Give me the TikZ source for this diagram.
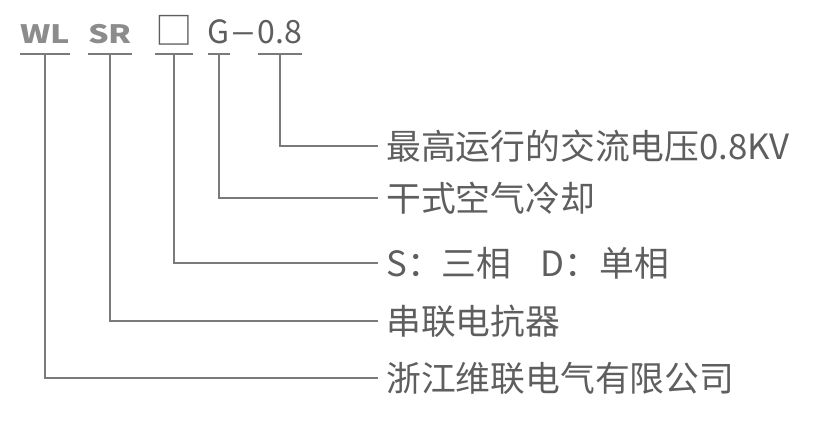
\documentclass[tikz,border=0pt]{standalone}
\usepackage{fontspec}
\usepackage{xcolor}
\newfontfamily\cjk{Noto Sans CJK SC}
\newfontfamily\cjkwide{Noto Sans CJK SC}[FakeStretch=1.28]
\usetikzlibrary{calc}
\definecolor{inkgray}{HTML}{5E5E5E}
\definecolor{codegray}{HTML}{8C8C8C}
\definecolor{linegray}{HTML}{7A7A7A}
\tikzset{
	code/.style={inner sep=0pt, anchor=base, text=inkgray, font=\cjk\fontsize{24}{26}\selectfont},
	codebold/.style={code, text=codegray, font=\cjkwide\bfseries\fontsize{19}{22}\selectfont},
	desc/.style={anchor=west, inner xsep=6pt, inner ysep=0pt, text=inkgray, font=\cjk\fontsize{26.1}{29}\selectfont},
	conn/.style={draw=linegray, line width=1pt}
}

\begin{document}
\begin{tikzpicture}[x=0.75pt,y=-0.75pt]
		\useasboundingbox (0,0) rectangle (833,429);
		\coordinate (uline) at (0,54);

		% type code
		\node[codebold] (wl) at (45,43) {WL};
		\node[codebold] (sr) at (110,43) {SR};
		\node[code, font=\cjk\fontsize{28}{30}\selectfont] (box) at (174,44) {□};
		\node[code] (g) at (219,43) {G};
		\node[code, font=\cjkwide\fontsize{26}{28}\selectfont] (dash) at (243,43) {–};
		\node[code] (volt) at (280,43) {0.8};

		% meanings
		\node[desc] (volttext) at (378,146) {最高运行的交流电压0.8KV};
		\node[desc] (gtext) at (378,198) {干式空气冷却};
		\node[desc] (boxtext) at (378,263) {S：三相\hspace{0.85em}D：单相};
		\node[desc] (srtext) at (378,321) {串联电抗器};
		\node[desc] (wltext) at (378,378) {浙江维联电气有限公司};

		\foreach \c in {wl,sr,box,g,volt} {
			\draw[conn]	(\c.west |- uline) -- (\c.east |- uline);
			\draw[conn]	(\c.south |- uline) |- (\c text.west);
		}
	\end{tikzpicture}
\end{document}
